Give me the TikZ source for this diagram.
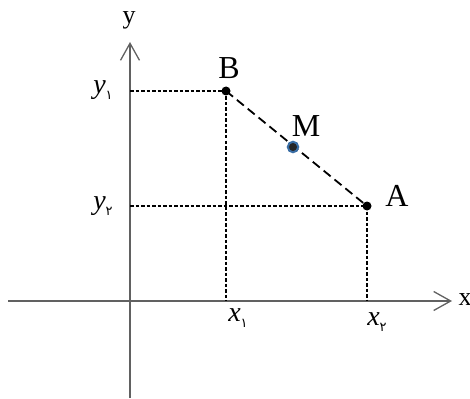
\documentclass[tikz,border=0pt]{standalone}
\usepackage{fontspec}
\setmainfont{Liberation Serif}
\newfontfamily\fadigits[Script=Arabic]{DejaVu Sans}
\usetikzlibrary{arrows.meta}
\tikzset{
  axis/.style={draw=black!62, line width=1.4pt, -{Straight Barb[length=17pt, width=19pt, line width=1.3pt]}},
  guide/.style={draw=black, line width=1.8pt, dash pattern=on 3.5pt off 2pt},
  seg/.style={draw=black, line width=1.8pt, dash pattern=on 9pt off 5pt},
  dot/.style={circle, fill=black, inner sep=0pt, minimum size=9pt},
  mdot/.style={circle, fill=black!85, draw={rgb,255:red,58;green,110;blue,165}, line width=2pt, inner sep=0pt, minimum size=10.5pt},
  big/.style={font=\fontsize{32}{32}\selectfont, inner sep=0pt},
  axlab/.style={font=\fontsize{26}{26}\selectfont, inner sep=0pt},
  coordlab/.style={font=\fontsize{28}{28}\selectfont\itshape, inner sep=0pt},
}
\newcommand{\fasub}[1]{\raisebox{-6pt}{\upshape\fadigits\fontsize{13}{13}\selectfont #1}}
\begin{document}
\begin{tikzpicture}[x=1pt,y=-1pt]
\useasboundingbox (0,0) rectangle (470,398);
% axes
\coordinate (xs) at (8,301);
\coordinate (xe) at (452,301);
\coordinate (ys) at (130,398);
\coordinate (ye) at (130,42);
\draw[axis] (xs) -- (xe);
\draw[axis] (ys) -- (ye);
\node[axlab] (xl) at (465,300) {x};
\node[axlab] (yl) at (129,20) {y};
% feet of projections
\coordinate (By) at (130,91);
\coordinate (Ay) at (130,206);
\coordinate (Bx) at (226,301);
\coordinate (Ax) at (367,301);
% points
\node[dot] (B) at (226,91) {};
\node[dot] (A) at (367,206) {};
% guides
\draw[guide] (By) -- (B.center);
\draw[guide] (Ay) -- (A.center);
\draw[guide] (B.center) -- (Bx);
\draw[guide] (A.center) -- (Ax);
% segment
\draw[seg] (B.center) -- (A.center);
\node[mdot] (M) at (293,147) {};
% labels
\node[big] (Bl) at (229,68) {B};
\node[big] (Al) at (397,196) {A};
\node[big] (Ml) at (306,126) {M};
\node[coordlab] (y1) at (103,90) {y\fasub{۱}};
\node[coordlab] (y2) at (103,206) {y\fasub{۲}};
\node[coordlab] (x1) at (238,318) {x\fasub{۱}};
\node[coordlab] (x2) at (377,322) {x\fasub{۲}};
\end{tikzpicture}
\end{document}
